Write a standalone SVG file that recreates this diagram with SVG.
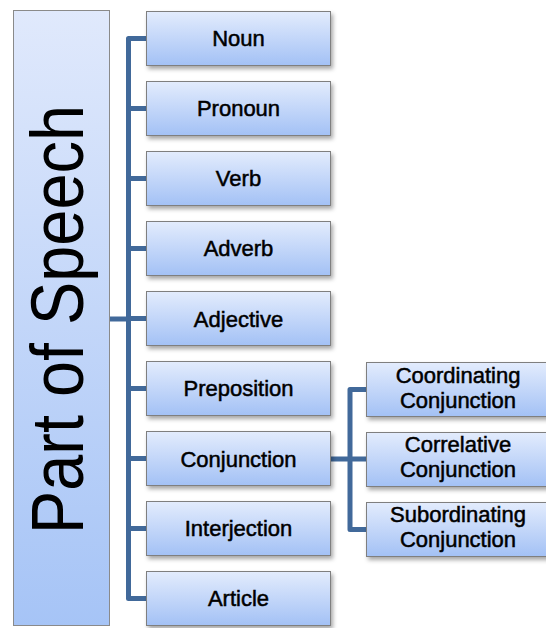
<svg xmlns="http://www.w3.org/2000/svg" width="546" height="628" viewBox="0 0 546 628">
<defs>
<linearGradient id="gBox" x1="0" y1="0" x2="0" y2="1">
<stop offset="0" stop-color="#e3ecfd"/>
<stop offset="1" stop-color="#a3c1f5"/>
</linearGradient>
<linearGradient id="gBig" x1="0" y1="0" x2="0" y2="1">
<stop offset="0" stop-color="#e0e9fc"/>
<stop offset="1" stop-color="#a6c4f6"/>
</linearGradient>
<filter id="sh" x="-10%" y="-10%" width="130%" height="140%">
<feDropShadow dx="2" dy="3" stdDeviation="2" flood-color="#000" flood-opacity="0.35"/>
</filter>
</defs>
<style>
.box{fill:url(#gBox);stroke:#7f7f7f;stroke-width:1;filter:url(#sh)}
.big{fill:url(#gBig);stroke:#8a8a8a;stroke-width:1}
.lbl{font-family:"Liberation Sans",Arial,sans-serif;font-size:22px;fill:#000;stroke:#000;stroke-width:0.5;text-anchor:middle}
.title{font-family:"Liberation Sans",Arial,sans-serif;font-size:74px;fill:#000}
.con{fill:none;stroke:#41699a;stroke-width:5;stroke-linejoin:round;stroke-linecap:butt}
</style>
<rect width="546" height="628" fill="#fff"/>
<g id="connectors">
<path class="con" d="M146,38.5 H128.5 V598.5 H146"/>
<path class="con" d="M128.5,108.5 H146 M128.5,178.5 H146 M128.5,248.5 H146 M128.5,318.5 H146 M128.5,388.5 H146 M128.5,458.5 H146 M128.5,528.5 H146"/>
<path class="con" d="M109,319 H128.5"/>
<path class="con" d="M366,389.5 H350 V529.5 H366 M330,459 H366"/>
</g>
<g id="part-of-speech">
<rect class="big" x="13.5" y="10.5" width="96" height="615"/>
<text class="title" transform="translate(83,534) rotate(-90)" textLength="429" lengthAdjust="spacingAndGlyphs">Part of Speech</text>
</g>
<g id="noun"><rect class="box" x="146.5" y="11.5" width="184" height="54"/><text class="lbl" x="238.5" y="46">Noun</text></g>
<g id="pronoun"><rect class="box" x="146.5" y="81.5" width="184" height="54"/><text class="lbl" x="238.5" y="116">Pronoun</text></g>
<g id="verb"><rect class="box" x="146.5" y="151.5" width="184" height="54"/><text class="lbl" x="238.5" y="186">Verb</text></g>
<g id="adverb"><rect class="box" x="146.5" y="221.5" width="184" height="54"/><text class="lbl" x="238.5" y="256">Adverb</text></g>
<g id="adjective"><rect class="box" x="146.5" y="291.5" width="184" height="54"/><text class="lbl" x="238.5" y="326.5">Adjective</text></g>
<g id="preposition"><rect class="box" x="146.5" y="361.5" width="184" height="54"/><text class="lbl" x="238.5" y="396">Preposition</text></g>
<g id="conjunction"><rect class="box" x="146.5" y="431.5" width="184" height="54"/><text class="lbl" x="238.5" y="466.5">Conjunction</text></g>
<g id="interjection"><rect class="box" x="146.5" y="501.5" width="184" height="54"/><text class="lbl" x="238.5" y="536">Interjection</text></g>
<g id="article"><rect class="box" x="146.5" y="571.5" width="184" height="54"/><text class="lbl" x="238.5" y="606">Article</text></g>
<g id="coordinating"><rect class="box" x="366.5" y="362.5" width="184" height="54"/><text class="lbl" x="458" y="383">Coordinating</text><text class="lbl" x="458" y="408">Conjunction</text></g>
<g id="correlative"><rect class="box" x="366.5" y="432.5" width="184" height="54"/><text class="lbl" x="458" y="452">Correlative</text><text class="lbl" x="458" y="477">Conjunction</text></g>
<g id="subordinating"><rect class="box" x="366.5" y="502.5" width="184" height="54"/><text class="lbl" x="458" y="522">Subordinating</text><text class="lbl" x="458" y="547">Conjunction</text></g>
</svg>
